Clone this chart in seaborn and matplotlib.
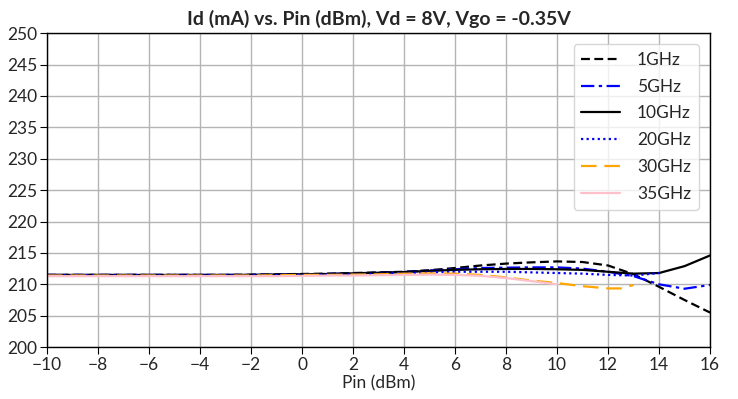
import matplotlib
matplotlib.use("Agg")
import matplotlib.pyplot as plt
import seaborn as sns
import pandas as pd

x_full = [-10, -9, -8, -7, -6, -5, -4, -3, -2, -1, 0, 1, 2, 3, 4, 5, 6, 7, 8, 9, 10, 11, 12, 13, 14, 15, 16]
id_1ghz = [211.5, 211.5, 211.5, 211.5, 211.5, 211.5, 211.5, 211.5, 211.55, 211.6, 211.65, 211.7, 211.8, 211.9, 212.0, 212.25, 212.6, 213.0, 213.3, 213.5, 213.65, 213.55, 213.0, 211.6, 209.6, 207.5, 205.5]
id_5ghz = [211.5, 211.5, 211.5, 211.5, 211.5, 211.5, 211.5, 211.5, 211.5, 211.55, 211.6, 211.65, 211.75, 211.85, 211.95, 212.2, 212.4, 212.6, 212.65, 212.7, 212.7, 212.5, 212.0, 211.3, 210.0, 209.3, 209.9]
id_10ghz = [211.5, 211.5, 211.5, 211.5, 211.5, 211.5, 211.5, 211.5, 211.5, 211.55, 211.6, 211.65, 211.75, 211.85, 211.95, 212.15, 212.3, 212.4, 212.45, 212.45, 212.4, 212.3, 212.0, 211.7, 211.8, 212.9, 214.6]

x_20 = [-10, -9, -8, -7, -6, -5, -4, -3, -2, -1, 0, 1, 2, 3, 4, 5, 6, 7, 8, 9, 10, 11, 12, 13, 14]
id_20ghz = [211.45, 211.45, 211.45, 211.45, 211.45, 211.45, 211.45, 211.45, 211.45, 211.5, 211.5, 211.55, 211.6, 211.7, 211.8, 211.9, 212.0, 212.0, 212.0, 211.9, 211.8, 211.7, 211.5, 211.4, 211.8]

x_30 = [-10, -9, -8, -7, -6, -5, -4, -3, -2, -1, 0, 1, 2, 3, 4, 5, 6, 7, 8, 9, 10, 11, 12, 12.5, 13]
id_30ghz = [211.4, 211.4, 211.4, 211.4, 211.4, 211.4, 211.4, 211.4, 211.4, 211.45, 211.5, 211.5, 211.55, 211.6, 211.7, 211.75, 211.7, 211.5, 211.1, 210.6, 210.2, 209.7, 209.35, 209.35, 209.9]

x_35 = [-10, -9, -8, -7, -6, -5, -4, -3, -2, -1, 0, 1, 2, 3, 4, 5, 6, 7, 8, 9, 10]
id_35ghz = [211.3, 211.3, 211.3, 211.3, 211.3, 211.3, 211.3, 211.3, 211.3, 211.3, 211.35, 211.4, 211.4, 211.45, 211.5, 211.55, 211.5, 211.35, 211.0, 210.5, 210.0]

labels = ["1GHz", "5GHz", "10GHz", "20GHz", "30GHz", "35GHz"]
xs = [x_full, x_full, x_full, x_20, x_30, x_35]
ys = [id_1ghz, id_5ghz, id_10ghz, id_20ghz, id_30ghz, id_35ghz]
colors = ["black", "#0000ff", "black", "#0000ff", "#ffa500", "#ffc0cb"]
styles = [(0, (4, 2)), (0, (6, 2, 1.5, 2)), "-", (0, (1, 1.5)), (0, (7, 3.5)), "-"]

sns.set_theme(style="ticks")
plt.rcParams["font.family"] = ["Lato", "DejaVu Sans"]

fig = plt.figure(figsize=(7.38, 3.99), dpi=100)
ax = fig.add_axes([0.0637, 0.130, 0.8985, 0.787])

for lab, x, y, c, ls in zip(labels, xs, ys, colors, styles):
    df = pd.DataFrame({"Pin": x, "Id": y})
    sns.lineplot(data=df, x="Pin", y="Id", ax=ax, color=c, linestyle=ls,
                 linewidth=1.6, label=lab)

ax.set_xlim(-10, 16)
ax.set_ylim(200, 250)
ax.set_xticks(range(-10, 17, 2))
ax.set_yticks(range(200, 251, 5))
ax.grid(True, color="#b4b4b4", linewidth=1.0)
ax.set_axisbelow(True)
for s in ax.spines.values():
    s.set_color("black")
    s.set_linewidth(1.0)
ax.tick_params(axis="both", labelsize=12.5, length=5, width=0.8, color="black", pad=2)
ax.set_xlabel("Pin (dBm)", fontsize=12.5, labelpad=2)
ax.set_ylabel("")
ax.set_title("Id (mA) vs. Pin (dBm), Vd = 8V, Vgo = -0.35V", fontsize=14,
             fontweight="bold", pad=6)
leg = ax.legend(loc="upper right", fontsize=12.5, frameon=True, fancybox=True,
                handlelength=2.2, handletextpad=1.0, borderpad=0.45,
                labelspacing=0.62, borderaxespad=0.0,
                bbox_to_anchor=(0.983, 0.965))
leg.get_frame().set_edgecolor("#cccccc")

fig.savefig("out.png", dpi=100)
